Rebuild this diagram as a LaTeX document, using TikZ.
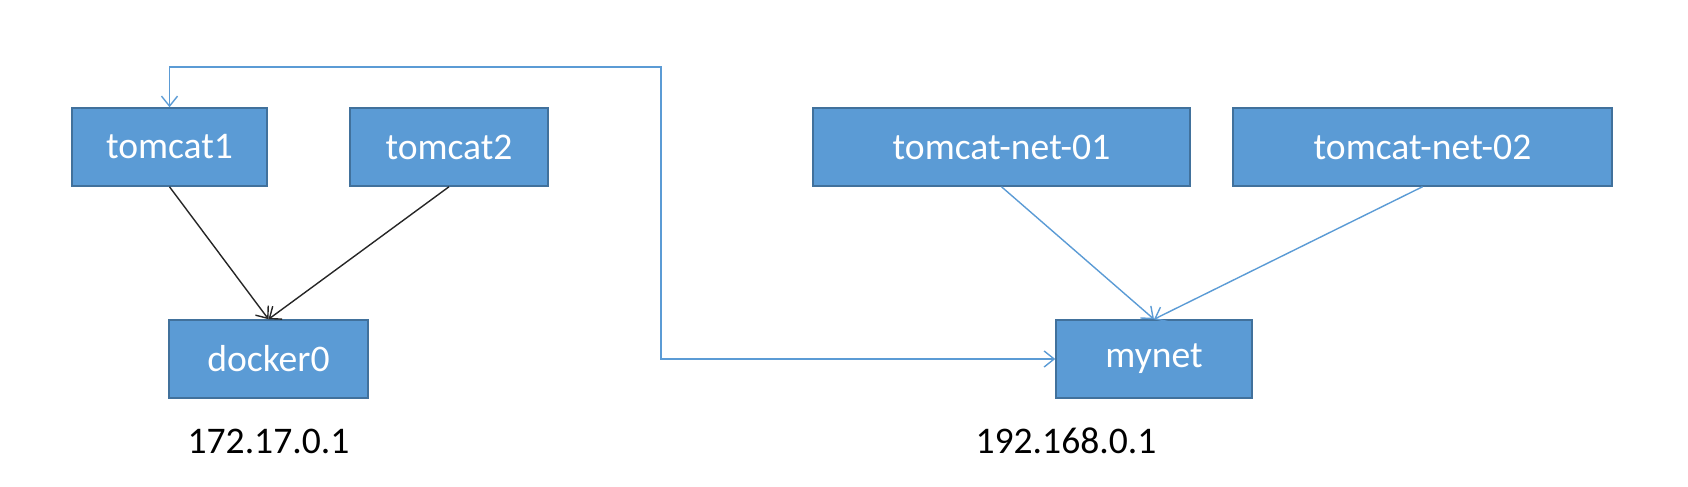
\documentclass[tikz,border=0pt]{standalone}
\usepackage{fontspec}
\setmainfont{Carlito}
\usetikzlibrary{arrows.meta,positioning}
\definecolor{boxblue}{HTML}{5B9BD5}
\definecolor{boxedge}{HTML}{41719C}
\tikzset{
  x=0.5pt,y=-0.5pt,
  >={Straight Barb[length=5pt,width=8pt]},
  netbox/.style={draw=boxedge,fill=boxblue,line width=0.75pt,
    minimum height=39pt,inner sep=0pt,text=white,
    font=\fontsize{18.8}{22}\selectfont},
  iplbl/.style={font=\fontsize{18.8}{22}\selectfont,inner sep=0pt},
  brlink/.style={->,line width=0.7pt,black!85},
  netlink/.style={->,line width=0.7pt,boxblue},
}
\begin{document}
\begin{tikzpicture}
  \useasboundingbox (0,0) rectangle (1688,487);
  % default bridge
  \node[netbox,minimum width=97.5pt] (tomcat1) at (169.5,147) {tomcat1};
  \node[netbox,minimum width=99pt] (tomcat2) at (449,147) {tomcat2};
  \node[netbox,minimum width=99.5pt] (docker0) at (268.5,359) {docker0};
  \node[iplbl] (ipdocker) at (268.5,441) {172.17.0.1};
  % custom network
  \node[netbox,minimum width=188.5pt] (net01) at (1001.5,147) {tomcat-net-01};
  \node[netbox,minimum width=189.5pt] (net02) at (1422.5,147) {tomcat-net-02};
  \node[netbox,minimum width=98pt] (mynet) at (1154,359) {mynet};
  \node[iplbl] (ipmynet) at (1066,441) {192.168.0.1};
  \draw[brlink] (tomcat1.south) -- (docker0.north);
  \draw[brlink] (tomcat2.south) -- (docker0.north);
  \draw[netlink] (net01.south) -- (mynet.north);
  \draw[netlink] (net02.south) -- (mynet.north);
  % connect tomcat1 to mynet
  \coordinate (bend) at (661,67);
  \draw[netlink,<->] (tomcat1.north) |- (bend) |- (mynet.west);
\end{tikzpicture}
\end{document}
